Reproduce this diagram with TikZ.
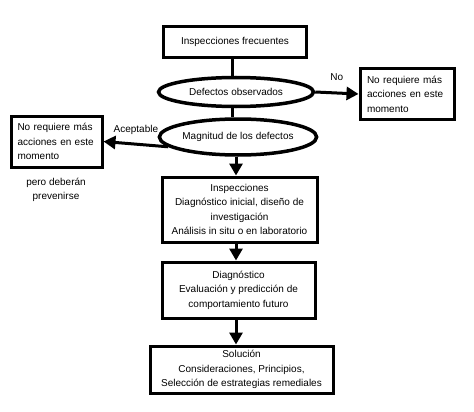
\documentclass[tikz,border=0pt]{standalone}
\usepackage{xcolor}
\usepackage{fontspec}
\setmainfont{Liberation Sans}
\usetikzlibrary{shapes.geometric,arrows.meta}

\tikzset{
	caja/.style={draw, line width=3pt, rectangle, inner sep=0pt, align=center, font=\fontsize{10}{14.5}\selectfont},
	elipse/.style={draw, line width=3.5pt, ellipse, inner sep=0pt, font=\fontsize{10}{12}\selectfont},
	flecha/.style={line width=3pt, -{Triangle[length=12pt,width=13pt]}},
	linea/.style={line width=3pt},
	rotulo/.style={font=\fontsize{10}{14.5}\selectfont, align=center}
}

\begin{document}
\begin{tikzpicture}
	\useasboundingbox (0pt, 0pt) rectangle (474pt, -412pt);
	\node[caja, minimum width=143pt, minimum height=31pt] (insp) at (235pt, -42pt) {Inspecciones frecuentes};
	\node[elipse, minimum width=155pt, minimum height=29pt] (obs) at (236pt, -92pt) {Defectos observados};
	\node[elipse, minimum width=151pt, minimum height=36pt] (magn) at (238pt, -137pt) {Magnitud de los defectos};
	\node[caja, align=left, minimum width=94pt, minimum height=50pt, text width=80pt] (nomas) at (407pt, -94pt) {No requiere más\\acciones en este\\momento};
	\node[caja, align=left, minimum width=91pt, minimum height=51pt, text width=78pt] (acep) at (56.5pt, -141.5pt) {No requiere más\\acciones en este\\momento};
	\node[rotulo] (prev) at (56pt, -190pt) {pero deberán\\prevenirse};
	\node[caja, minimum width=155pt, minimum height=65pt] (ensayo) at (239.5pt, -209.5pt) {Inspecciones\\ Diagnóstico inicial, diseño de\\investigación\\Análisis in situ o en laboratorio};
	\node[caja, minimum width=153pt, minimum height=56pt] (diag) at (238.5pt, -290pt) {Diagnóstico\\ Evaluación y predicción de\\comportamiento futuro};
	\node[caja, minimum width=183pt, minimum height=47pt] (sol) at (241.5pt, -369.5pt) {Solución\\Consideraciones, Principios,\\Selección de estrategias remediales};

	\draw[linea] (insp.south -| 232pt, 0) -- (obs.north -| 232pt, 0);
	\draw[linea] (obs.south -| 232pt, 0) -- (magn.north -| 232pt, 0);
	\draw[flecha] (obs.east) -- (nomas.west) node[midway, above=8pt, rotulo] {No};
	\draw[flecha] (magn.188) -- (acep.east) node[midway, above=5pt, rotulo] {Aceptable};
	\draw[flecha] (magn.south -| 236pt, 0) -- (ensayo.north -| 236pt, 0);
	\draw[flecha] (ensayo.south -| 236pt, 0) -- (diag.north -| 236pt, 0);
	\draw[flecha] (diag.south -| 236pt, 0) -- (sol.north -| 236pt, 0);
\end{tikzpicture}
\end{document}
